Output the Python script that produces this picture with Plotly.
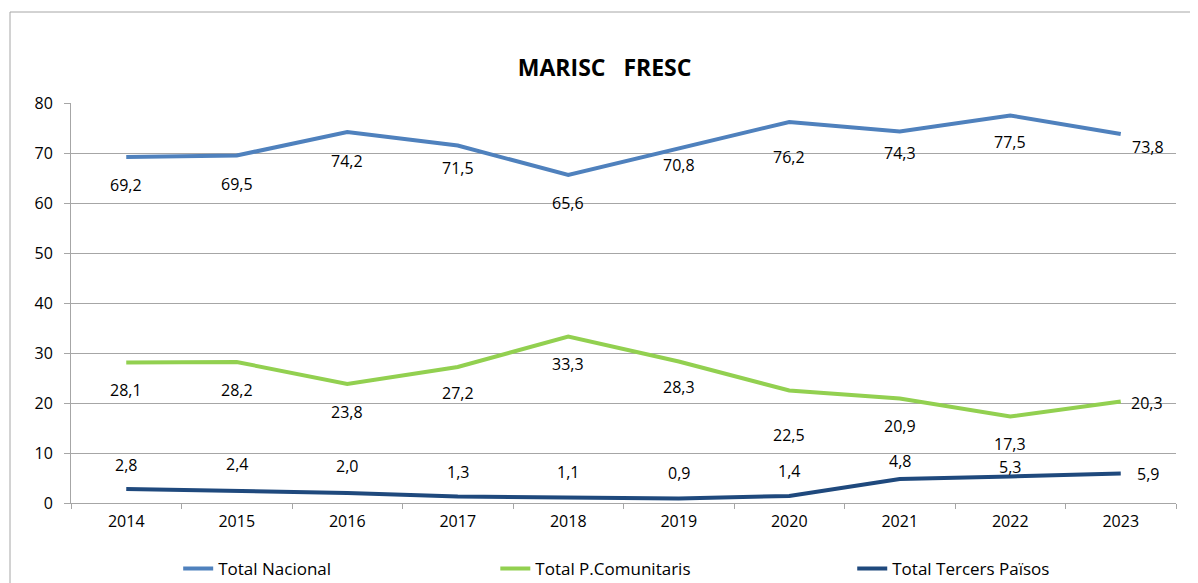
import plotly.graph_objects as go

years = ['2014', '2015', '2016', '2017', '2018', '2019', '2020', '2021', '2022', '2023']
total_nacional = [69.2, 69.5, 74.2, 71.5, 65.6, 70.8, 76.2, 74.3, 77.5, 73.8]
total_comunitaris = [28.1, 28.2, 23.8, 27.2, 33.3, 28.3, 22.5, 20.9, 17.3, 20.3]
total_tercers = [2.8, 2.4, 2.0, 1.3, 1.1, 0.9, 1.4, 4.8, 5.3, 5.9]

FONT = 'Open Sans'
GRID = '#A6A6A6'

# label placement (pixels): (xshift, yshift) per point
nacional_shift = [(0, -28), (0, -28), (0, -29), (0, -22), (0, -28), (0, -16), (0, -35), (0, -21), (0, -26), (27, -13)]
comunitaris_shift = [(0, -27), (0, -28), (0, -28), (0, -26), (0, -27), (0, -25), (0, -44), (0, -27), (0, -27), (26, -1)]
tercers_shift = [(0, 24), (0, 27), (0, 27), (0, 25), (0, 26), (0, 26), (0, 25), (0, 18), (0, 10), (27, 0)]

series = [
    ('Total Nacional', total_nacional, '#4F81BD', nacional_shift, 'legend', 0.097),
    ('Total P.Comunitaris', total_comunitaris, '#92D050', comunitaris_shift, 'legend2', 0.384),
    ('Total Tercers Països', total_tercers, '#1F497D', tercers_shift, 'legend3', 0.707),
]

fig = go.Figure()
annotations = []
legends = {}
for name, vals, color, shifts, leg, legx in series:
    fig.add_trace(go.Scatter(x=years, y=vals, name=name, mode='lines',
                             line=dict(color=color, width=4), legend=leg))
    for i, (v, (dx, dy)) in enumerate(zip(vals, shifts)):
        annotations.append(dict(x=i, y=v, text='{:.1f}'.format(v).replace('.', ','),
                                showarrow=False, xshift=dx, yshift=dy,
                                font=dict(family=FONT, size=16, color='black')))
    legends[leg] = dict(orientation='h', x=legx, xanchor='left', y=-0.165, yanchor='middle',
                        font=dict(family=FONT, size=17, color='black'),
                        bgcolor='rgba(0,0,0,0)')

# page body adds an 8px offset, margins are reduced to compensate
fig.update_layout(
    width=1198, height=583,
    margin=dict(l=63, r=30, t=95, b=88, autoexpand=False),
    paper_bgcolor='white', plot_bgcolor='white',
    showlegend=True,
    title=dict(text='<b>MARISC   FRESC</b>', x=0.498, xref='container', xanchor='center',
               y=0.897, yref='container', yanchor='middle',
               font=dict(family=FONT, size=23, color='black')),
    xaxis=dict(type='category', range=[-0.5, 9.5], tickson='boundaries', ticks='outside', ticklen=5,
               tickcolor=GRID, showline=True, linecolor=GRID, showgrid=False, tickangle=0,
               tickfont=dict(family=FONT, size=16, color='black'), ticklabelstandoff=4),
    yaxis=dict(range=[0, 80], dtick=10, ticks='outside', ticklen=6, tickcolor=GRID,
               showline=True, linecolor=GRID, showgrid=True, gridcolor=GRID, zeroline=False,
               tickfont=dict(family=FONT, size=16, color='black'), ticklabelstandoff=8),
    annotations=annotations,
    shapes=[
        dict(type='rect', xref='paper', yref='paper', x0=-0.0552, x1=1.1, y0=-0.3, y1=1.2275,
             line=dict(color=GRID, width=1)),
        dict(type='line', xref='paper', yref='paper', x0=-0.07, x1=1.03, y0=1.2555, y1=1.2555,
             line=dict(color='#C0C0C0', width=1)),
    ],
    **legends,
)

fig.write_html('out.html')
